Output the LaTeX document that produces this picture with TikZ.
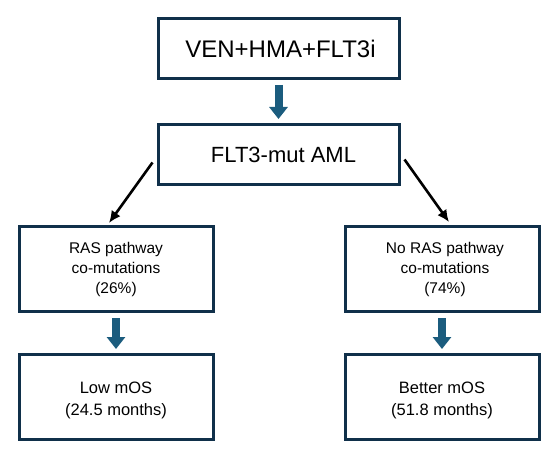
\documentclass[tikz,border=0pt]{standalone}
\usepackage{fontspec}
\setmainfont{Liberation Sans}
\usepackage{xcolor}
\usetikzlibrary{positioning,arrows.meta}

\definecolor{boxline}{HTML}{10304A}
\definecolor{flowblue}{HTML}{1B5C7E}

\begin{document}
\begin{tikzpicture}[
    x=1pt, y=1pt,
    box/.style={
      draw=boxline,
      line width=3pt,
      align=center,
      inner sep=2pt
    },
    bigbox/.style={
      box,
      minimum width=241pt,
      minimum height=60pt
    },
    subbox/.style={
      box,
      minimum width=194pt,
      minimum height=85pt
    },
    flow/.style={
      draw=flowblue,
      line width=8pt,
      -{Triangle[length=12pt,width=18pt]},
      shorten <=5pt,
      shorten >=4pt
    },
    split/.style={
      draw=black,
      line width=2.6pt,
      -{Latex[length=12pt,width=11pt]}
    }
]
  \useasboundingbox (0,0) rectangle (550,-452);

  % Top boxes
  \node[bigbox, font=\fontsize{24}{28}\selectfont] (combo) at (278.5,-48.5) {\hspace{4pt}VEN+HMA+FLT3i};
  \node[bigbox, below=43pt of combo, font=\fontsize{22}{26}\selectfont] (flt) {\hspace{10pt}FLT3-mut AML};

  % Middle boxes
  \node[subbox, font=\fontsize{15.5}{20}\selectfont] (ras) at (116,-269) {RAS pathway\\co-mutations\\(26\%)};
  \node[subbox, font=\fontsize{15.5}{20}\selectfont] (noras) at (442,-269) {\hspace{6pt}No RAS pathway\\\hspace{6pt}co-mutations\\\hspace{6pt}(74\%)};

  % Bottom boxes
  \node[subbox, below=40pt of ras, font=\fontsize{16.5}{22}\selectfont] (low) {\rule{0pt}{18pt}Low mOS\\(24.5 months)};
  \node[subbox, below=40pt of noras, font=\fontsize{16.5}{22}\selectfont] (better) {\rule{0pt}{18pt}Better mOS\\(51.8 months)};

  % Connecting arrows
  \draw[flow] (combo) -- (flt);
  \draw[split] ([shift={(-4pt,-8pt)}]flt.west) -- ([shift={(-7pt,2pt)}]ras.north);
  \draw[split] ([shift={(4pt,-5pt)}]flt.east) -- ([shift={(7pt,3pt)}]noras.north);
  \draw[flow] (ras) -- (low);
  \draw[flow] (noras) -- (better);
\end{tikzpicture}
\end{document}
